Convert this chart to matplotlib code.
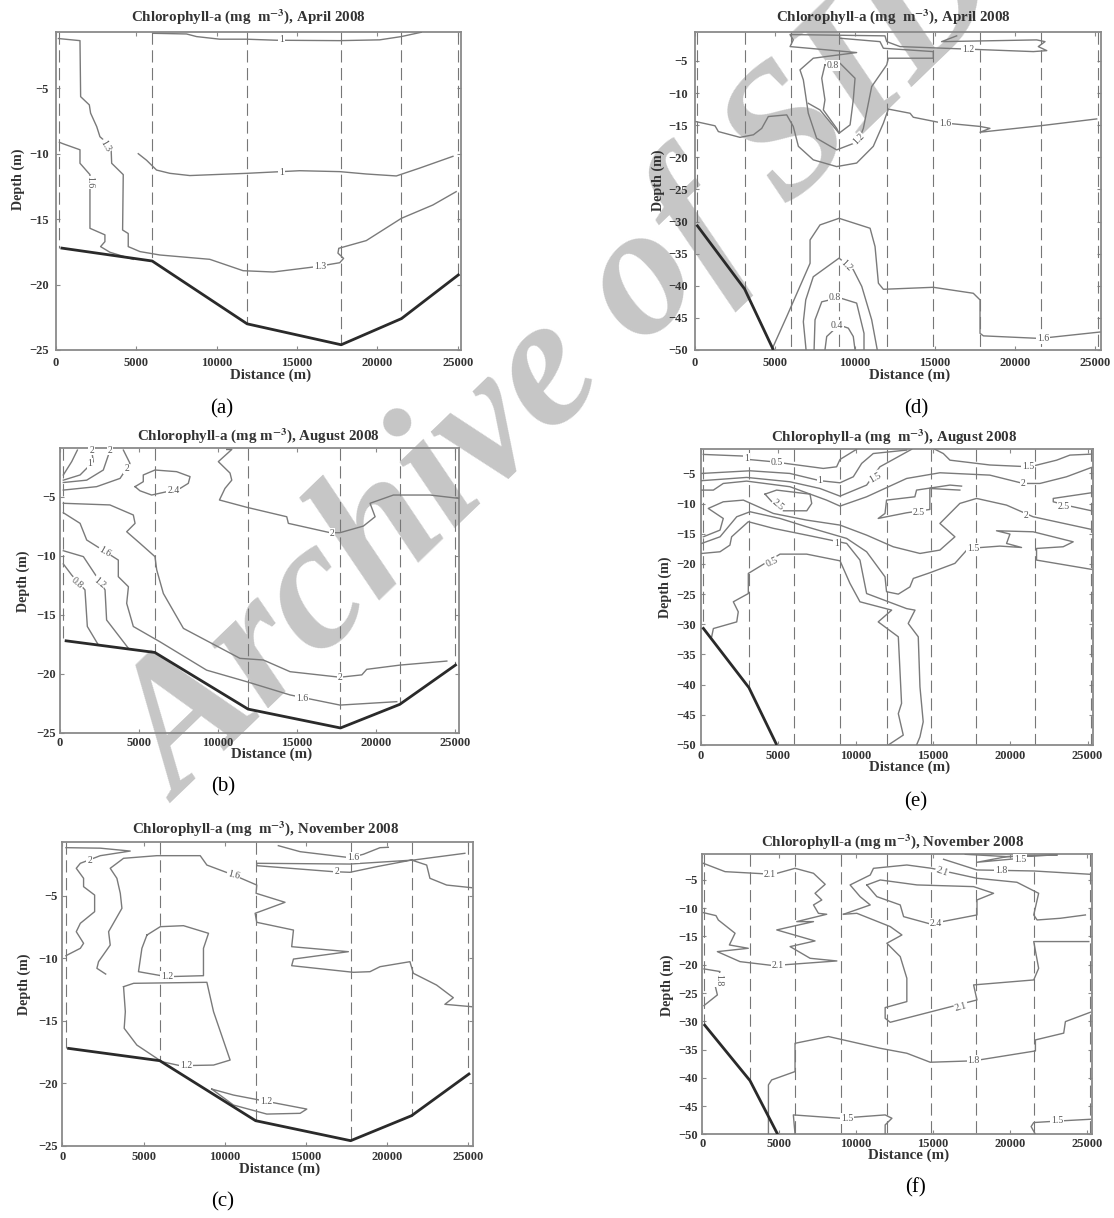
import matplotlib
matplotlib.use("Agg")
import matplotlib.pyplot as plt
import numpy as np

plt.rcParams['font.family'] = ['Liberation Serif', 'DejaVu Serif']
plt.rcParams['mathtext.fontset'] = 'stix'

W, H = 1114, 1218
line_col = "#7a7a7a"
dash_col = "#777777"
frame_col = "#8a8a8a"

# bottom profile of the two transects
bot_x_near = [300, 6000, 11900, 17750, 21500, 25100]
bot_y_near = [-17.2, -18.2, -23, -24.6, -22.6, -19.2]
bot_x_far = [100, 3100, 4900]
bot_y_far = [-30.5, -40.5, -50]

stations_near = [200, 6000, 11900, 17750, 21500, 25000]
stations_far = [100, 3100, 6000, 9000, 12000, 14900, 17800, 21600, 25200]

# (a) April, near
a1_x = [6065, 8135, 8756, 10205, 11860, 13725, 17657, 20141, 21487, 22729]
a1_y = [-0.8, -0.85, -1.05, -1.25, -1.25, -1.33, -1.36, -1.3, -1.05, -0.72]
a2_x = [5134, 5650, 6270, 7100, 8340, 11860, 15170, 17660, 19310, 21180, 22630, 24700]
a2_y = [-10, -10.5, -11.25, -11.5, -11.67, -11.5, -11.3, -11.37, -11.55, -11.7, -11.1, -10.2]
a3_x = [165, 1510, 1550, 2090, 2170, 2550, 2750, 3440, 3480, 4200, 4160, 4510, 4510, 5240, 6480, 9580,
        11650, 13520, 16210, 17660, 17900, 17550, 17600, 19310, 21490, 23450, 24900]
a3_y = [-1.2, -1.36, -5.64, -6.27, -6.9, -7.93, -8.7, -9.46, -10.73, -11.6, -15.83, -16.1, -17.1, -17.48,
        -17.74, -18.07, -18.94, -19.04, -18.63, -18.33, -18, -17.6, -17.23, -16.64, -14.94, -13.92, -12.9]
a4_x = [230, 480, 1510, 1510, 2130, 2130, 2130, 3060, 3060, 2790, 3370, 4820]
a4_y = [-9.13, -9.25, -9.7, -10.73, -11.6, -15.06, -15.7, -16.2, -16.72, -17.1, -17.53, -18.07]
a_lab = [("1", 14040, -1.25, 0), ("1", 14040, -11.4, 0), ("1.3", 3120, -9.4, -60),
         ("1.6", 2130, -12.2, -90), ("1.3", 16420, -18.63, 0)]

# (b) August, near
b1_x = [210, 740, 1100]
b1_y = [-3.16, -2.03, -1.05]
b2_x = [210, 1270, 2110, 2000]
b2_y = [-3.6, -3.16, -2.03, -1.05]
b3_x = [210, 1690, 2740, 3170]
b3_y = [-3.8, -3.6, -2.74, -1.05]
b4_x = [210, 2320, 3800, 4430, 4010]
b4_y = [-4.44, -4.15, -3.45, -2.18, -1.05]
b5_x = [4750, 5270, 5270, 6010, 7380, 8230, 8120, 7600, 6750, 5800, 5060, 4750]
b5_y = [-4.15, -3.73, -3.16, -2.74, -2.88, -3.3, -3.87, -4.3, -4.58, -4.86, -4.5, -4.15]
b6_x = [10550, 10870, 10020, 10760, 10870, 10440, 10090, 11820, 14350, 14450, 17090, 17720, 19200, 19940,
        19620, 21100, 23420, 25210]
b6_y = [-1, -1, -2.03, -3, -3.6, -4.3, -5.28, -5.9, -6.7, -7.26, -8.05, -8.05, -7.49, -6.7, -5.56, -4.86,
        -4.86, -5.14]
b7_x = [210, 3160, 4640, 4750, 4220, 5060, 6010, 6120, 6540, 7810, 11390, 12870, 14560, 17720, 19100, 19410,
        21520, 24480]
b7_y = [-5.56, -5.7, -6.55, -7.26, -7.97, -8.95, -10.08, -11.2, -13.2, -16.16, -18.7, -18.84, -19.83, -20.3,
        -20.1, -19.63, -19.27, -18.93]
b8_x = [210, 1270, 1690, 2530, 3690, 3690, 4330, 4220, 4640, 6330, 9280, 11820, 14560, 17720, 21310]
b8_y = [-6.36, -7.26, -8.67, -9.38, -10.37, -11.78, -12.63, -14.04, -16, -17.3, -19.7, -20.68, -21.8, -22.66,
        -22.37]
b9_x = [210, 1480, 2320, 2850, 2950, 4330]
b9_y = [-9.58, -10.08, -11.78, -12.9, -15.45, -17.85]
b10_x = [210, 740, 1580, 1730, 2430]
b10_y = [-10.7, -11.64, -12.9, -16, -17.57]
b_lab = [("2.4", 7170, -4.44, 0), ("2", 17200, -8.1, 0), ("1.6", 2810, -9.7, -30), ("1.2", 2470, -12.3, -40),
         ("0.8", 1100, -12.3, -40), ("1.6", 15300, -22.1, 0), ("2", 17720, -20.3, 0), ("1", 1900, -2.2, 0),
         ("2", 4220, -2.65, 0), ("2", 3170, -1.05, 0), ("2", 2000, -1.05, 0)]

# (c) November, near
c1_x = [225, 2340, 4180, 2340, 1110, 860, 1310, 1310, 1990, 1990, 1110, 860, 1310, 1110, 225]
c1_y = [-1.16, -1.2, -1.43, -1.8, -2.41, -2.81, -3.61, -4.28, -4.95, -6.28, -7.21, -7.88, -8.81, -9.21, -9.8]
c2_x = [2670, 2130, 2230, 2950, 2850, 3670, 3570, 3360, 2950, 3770, 5820, 8490, 8900, 10540, 11970, 11930,
        13710, 11870, 11970, 14230, 14120, 17610, 14230, 14120, 17920, 18940, 19560, 21400, 21610, 23040,
        24070, 23550, 25190]
c2_y = [-11.27, -10.81, -10.28, -8.95, -7.88, -6.01, -4.81, -3.61, -2.81, -2.01, -1.8, -1.8, -2.55, -3.35,
        -4.15, -4.81, -5.53, -6.41, -7.13, -7.75, -9.08, -9.48, -10.07, -10.6, -11.13, -11.08, -10.68, -10.28,
        -11.21, -12.15, -13.16, -13.69, -13.88]
c3_x = [13300, 14640, 17710, 18530, 19560, 20070]
c3_y = [-1, -1.48, -1.96, -1.69, -1.16, -1.13]
c4_x = [24780, 21610, 17710, 11970, 11970, 16690, 17710, 19350, 21500, 22430, 22630, 23660, 25190]
c4_y = [-1.61, -2.15, -2.47, -2.41, -2.6, -3.08, -3.13, -2.68, -2.15, -2.55, -3.61, -4.15, -4.36]
c5_x = [5210, 6030, 7460, 9000, 8690, 8690, 6440, 4690, 4900, 5210]
c5_y = [-8.15, -7.48, -7.4, -8.01, -9.21, -11.4, -11.48, -11.08, -9.21, -8.15]
c6_x = [3770, 4390, 8900, 9310, 10330, 9310, 7260, 6130, 4590, 3810, 3880, 3770]
c6_y = [-12.28, -12.01, -11.93, -14.28, -18.15, -18.55, -18.6, -18.28, -16.95, -15.61, -14.28, -12.28]
c7_x = [9200, 10540, 15050, 14640, 12590, 10540, 9200]
c7_y = [-20.47, -20.95, -22.07, -22.41, -22.47, -21.75, -20.47]
c_lab = [("2", 1680, -2.15, 0), ("1.6", 10540, -3.35, -15), ("1.6", 17920, -1.93, 0), ("2", 16890, -3.08, 0),
         ("1.2", 6440, -11.48, 0), ("1.2", 7600, -18.6, 0), ("1.2", 12550, -21.48, 0)]

# (d) April, far
d1_x = [60, 1250, 1460, 2810, 3650, 4170, 4580, 5730, 6140, 6460, 7390, 8850, 10100, 11140, 11770, 12080, 13440,
        13640, 15310, 17810, 18430, 17810, 21560, 25100]
d1_y = [-14.45, -15.1, -16, -16.9, -16.5, -15.5, -13.66, -13.4, -15.2, -18.3, -20.4, -21.45, -20.9, -18.3, -14.7,
        -12.5, -13.15, -13.77, -14.6, -15.2, -15.5, -16.1, -15.1, -14.03]
d2_x = [16350, 15410, 21350, 21870, 21450, 21980, 21140, 12810, 11980, 11870, 5940, 6140, 5940, 10100, 7390, 6560,
        6770, 7080, 7600, 8850, 10200, 10520, 11040, 11980, 12080, 14890, 14890, 11770, 11560, 9060]
d2_y = [-1.1, -2, -1.73, -2, -2.77, -3.4, -3.55, -2.77, -2, -1.1, -0.9, -1.73, -2.77, -3.7, -4.58, -6.4, -7.96,
        -13.15, -17.04, -18.85, -17.56, -15.5, -9, -5.62, -4.58, -4.58, -3.55, -3.03, -2, -1.47]
d3_x = [8120, 7920, 8120, 8020, 8850, 9000, 9690, 9890, 10000, 9060, 8120]
d3_y = [-5.6, -7.7, -11.07, -12.63, -15.5, -16.26, -14.96, -11.07, -7.7, -5.36, -5.6]
d4_x = [4790, 5730, 7190, 7190, 7810, 9000, 10940, 11250, 11460, 11770, 14890, 17390, 17810, 17810, 18020, 21560,
        25310]
d4_y = [-50, -44.8, -36.5, -32.87, -30.53, -29.5, -31.05, -33.9, -39.6, -40.55, -40.24, -41.17, -42.2, -47.4,
        -47.8, -48.2, -47.2]
d5_x = [6940, 6770, 6920, 7390, 9000, 9890, 10420, 11040, 11390]
d5_y = [-50, -45.6, -42.2, -38.6, -35.7, -37.5, -40.1, -45.3, -50]
d6_x = [7440, 7500, 7920, 9000, 10100, 10560, 10560]
d6_y = [-50, -45.3, -42.5, -41.85, -42.7, -47.4, -50]
d7_x = [8120, 8230, 9000, 9580, 9890, 10000]
d7_y = [-50, -47.9, -46.1, -46.6, -47.9, -50]
d8_x = [7080, 7810, 8430, 9000]
d8_y = [-11.6, -12.63, -14.5, -16.26]
d_lab = [("0.8", 8600, -5.7, 0), ("1.2", 17080, -3.2, 0), ("1.6", 15620, -14.7, 0), ("1.2", 10200, -17.2, 45),
         ("1.2", 9480, -36.8, -45), ("0.8", 8750, -41.85, 0), ("0.4", 8850, -46.2, 0), ("1.6", 21730, -48.2, 0)]

# (e) August, far
e1_x = [150, 2840, 3060, 4680, 7910, 8770, 8990, 10060]
e1_y = [-1.85, -2.13, -2.68, -3.07, -4.17, -3.9, -2.68, -1]
e2_x = [40, 3170, 5750, 7690, 8990, 9850, 10390, 11140, 13300]
e2_y = [-5, -4.56, -5, -6.2, -6.55, -5.55, -3.34, -1.7, -1.13]
e3_x = [40, 2950, 5750, 7690, 8990, 10710, 11570, 13620]
e3_y = [-6.2, -5.66, -6.38, -7.49, -8.76, -6.93, -3.9, -1]
e4_x = [40, 800, 1440, 2950, 5750, 8120, 8990, 10710, 13300, 15450, 18680, 20840, 21920, 23640, 25260]
e4_y = [-7.76, -7.76, -6.66, -6.27, -7.2, -9.42, -10.41, -8.87, -5.83, -4.89, -5.28, -6.66, -6.66, -5.55, -4]
e5_x = [4140, 4890, 7050, 7160, 6840, 5320, 4680, 4140]
e5_y = [-8.43, -7.76, -8.43, -9.97, -11.19, -11.19, -9.97, -8.43]
e6_x = [16850, 16100, 13940, 13830, 12000, 11900, 11460, 12000, 13300, 14800, 14800, 16740]
e6_y = [-7.1, -6.93, -7.76, -8.87, -9.42, -11.63, -12.46, -12.18, -11.52, -10.97, -7.49, -7.76]
e7_x = [25260, 22780, 22780, 23860, 25260]
e7_y = [-8.2, -9.14, -9.7, -10.41, -11.19]
e8_x = [150, 1230, 1440, 470, 1440, 2740, 4680, 6830, 8990, 10710, 12430, 14160, 15450, 16420, 15450, 16740, 17820,
        19760, 21480, 25260]
e8_y = [-15.5, -14.39, -12.46, -10.8, -9.7, -9.42, -11.63, -12.73, -13.56, -15.22, -17.15, -18.26, -17.7, -15.5,
        -13.29, -9.97, -9.14, -10.25, -12.18, -14.28]
e9_x = [40, 1230, 2310, 3170, 5110, 6830, 9420, 10710, 11900, 12000, 12760, 13510, 13730, 14800, 16420, 17280,
        19330, 20730, 19760, 19980, 19110, 21480, 24070, 23420, 21700, 21700, 25260]
e9_y = [-16.6, -15.5, -12.18, -11.35, -12.46, -13.84, -15.77, -17.98, -22.13, -24.6, -25, -23.8, -22.4, -21.46,
        -19.9, -17.43, -17.04, -17.27, -16.6, -15.05, -14.5, -14.67, -16.33, -17.15, -17.43, -19.36, -20.9]
e10_x = [40, 1230, 1870, 1980, 3060, 4680, 6830, 9420, 10280, 10710, 13300, 13840, 13400, 14050, 14160, 14370,
         14160, 13940]
e10_y = [-18.26, -17.98, -16.88, -15.5, -13, -14.1, -15.22, -16.6, -19.36, -24.9, -27.4, -27.65, -29.86, -32.07,
         -40.36, -46.16, -48.65, -50]
e11_x = [690, 800, 2310, 2410, 2090, 3060, 3060, 5110, 6830, 8990, 9630, 10280, 12330, 11460, 12760, 12970, 12760,
         13080, 12110]
e11_y = [-32.07, -30.7, -29.6, -27.93, -26.27, -24.9, -21.57, -18.37, -18.37, -19.48, -23.2, -26.27, -27.65, -29.6,
         -32.07, -43.1, -44.8, -48.36, -50]
e12_x = [15130, 15670, 16100, 18680, 21270, 23000, 23860, 25260]
e12_y = [-1, -1.7, -2.8, -3.6, -3.9, -2.8, -1.96, -1.8]
e_lab = [("1", 2950, -2.5, 0), ("0.5", 4890, -3.2, 0), ("1", 7690, -6.2, 0), ("1.5", 11250, -5.66, 30),
         ("2.5", 5000, -10.25, -40), ("2.5", 14110, -11.52, 0), ("2.5", 23470, -10.4, 0), ("1.5", 21160, -3.8, 0),
         ("2", 20840, -6.66, 0), ("2", 21010, -11.9, 0), ("1.5", 17600, -17.43, 0), ("1", 8770, -16.6, 0),
         ("0.5", 4570, -19.75, 25)]

# (f) November, far
f1_x = [65, 1480, 4620, 6030, 7230, 7990, 7330, 7770, 7230, 7550, 8090, 6140, 7230, 4840, 7330, 5710, 7010, 8750,
        4620, 2450, 980, 2990, 1760, 2130, 1040, 890, 65]
f1_y = [-2.05, -3.53, -4, -2.94, -3.82, -5.77, -7.36, -8.54, -9.42, -10.9, -11.07, -12.37, -12.37, -13.84, -15.79,
        -16.79, -18.86, -19.33, -20.15, -19.45, -17.68, -17.09, -16.5, -14.43, -12.08, -11.31, -10.78]
f2_x = [9180, 10920, 10260, 9610, 10920, 11130, 13300, 14910, 17860, 20460, 21870, 21550, 21770, 23280, 24910]
f2_y = [-11.07, -9.42, -7.95, -5.88, -4.12, -2.94, -2.35, -2.94, -4.7, -5.41, -7.36, -11.19, -12.08, -11.78, -11.19]
f3_x = [9180, 10050, 12220, 12980, 12000, 12870, 13300, 13300, 11890, 11890, 12220, 17860, 17640, 21550, 21870,
        21550, 25130]
f3_y = [-11.07, -10.9, -13.25, -14.73, -16.2, -18.56, -22.39, -26.52, -27.58, -29.47, -30.18, -26.23, -23.57,
        -22.69, -20.63, -15.9, -15.9]
f4_x = [10700, 11570, 13960, 17640, 18940, 17860, 17860, 14820, 13090, 12870, 11350, 10700]
f4_y = [-5.88, -5, -5.88, -6.18, -7.36, -8.54, -11.19, -12.78, -11.49, -9.42, -7.95, -5.88]
f5_x = [15690, 17860, 21550, 25240]
f5_y = [-1.34, -3.23, -3.41, -4]
f6_x = [17100, 19810, 23070, 19810, 17860, 20680]
f6_y = [-0.46, -0.87, -0.58, -0.87, -1.87, -1.17]
f7_x = [4300, 4300, 4510, 6030, 6030, 8200, 11570, 13300, 14820, 17640, 21660, 21660, 23500, 23610, 25240]
f7_y = [-50, -41.26, -40.38, -38.9, -33.9, -32.7, -34.78, -35.66, -37.25, -37, -35.25, -33.3, -32.1, -30.06, -28.4]
f8_x = [6030, 5920, 8960, 11890, 12330, 11890, 11890]
f8_y = [-50, -46.57, -47.16, -46.57, -47.16, -48.34, -50]
f9_x = [21660, 21380, 21550, 23280, 25240]
f9_y = [-50, -48.63, -47.92, -47.63, -47.34]
f10_x = [108, 1150, 825, 980, 108]
f10_y = [-20.74, -21.2, -23.57, -25.34, -27.23]
f_lab = [("2.1", 4400, -4, 0), ("2.1", 15580, -3.53, -20), ("1.8", 19420, -3.41, 0), ("1.5", 20680, -1.34, 0),
         ("2.4", 15210, -12.66, 0), ("2.1", 4900, -20.15, 0), ("2.1", 16820, -27.4, 15), ("1.8", 17640, -37, 0),
         ("1.5", 9400, -47.16, 0), ("1.5", 23070, -47.63, 0), ("1.8", 1085, -22.7, -90)]

xticks = [0, 5000, 10000, 15000, 20000, 25000]
yticks_near = [-25, -20, -15, -10, -5]
yticks_far = [-50, -45, -40, -35, -30, -25, -20, -15, -10, -5]

fig = plt.figure(figsize=(W / 100, H / 100), dpi=100, facecolor="white")


def panel(box, xmax, ytop, near, month, lines, labels, letter, title, xlab, ylab, pad, gap="  "):
    l, t, r, b = box
    ax = fig.add_axes([l / W, 1 - b / H, (r - l) / W, (b - t) / H])
    ax.patch.set_alpha(0)
    ax.set_xlim(0, xmax)
    ax.set_ylim(-25 if near else -50, ytop)

    bx, by = (bot_x_near, bot_y_near) if near else (bot_x_far, bot_y_far)
    for s in (stations_near if near else stations_far):
        ax.plot([s, s], [ytop, np.interp(s, bx, by)], color=dash_col, lw=0.8, dashes=(11, 5), zorder=2)

    for xs, ys in lines:
        ax.plot(xs, ys, color=line_col, lw=1.0, zorder=3)
    ax.plot(bx, by, color="#2a2a2a", lw=2.0, zorder=4, solid_capstyle="butt")

    for txt, x, y, rot in labels:
        ax.text(x, y, txt, fontsize=7, color="#555555", ha="center", va="center", rotation=rot, zorder=5,
                bbox=dict(facecolor="white", edgecolor="none", pad=0.6))

    ax.set_xticks(xticks)
    ax.set_yticks(yticks_near if near else yticks_far)
    ax.tick_params(direction="in", length=3, width=0.8, color=frame_col, top=True, right=True, pad=pad,
                   labelsize=9, labelcolor="#333333")
    for lab in ax.get_xticklabels() + ax.get_yticklabels():
        lab.set_fontweight("bold")
    for s in ax.spines.values():
        s.set_color(frame_col)
        s.set_linewidth(1.3)

    fig.text(title[0] / W, 1 - title[1] / H, "Chlorophyll-a (mg" + gap + r"m$^{\mathbf{-3}}$), " + month,
             fontsize=10.8, fontweight="bold", color="#333333", ha="center", va="center")
    fig.text(xlab[0] / W, 1 - xlab[1] / H, "Distance (m)", fontsize=10.8, fontweight="bold", color="#333333",
             ha="center", va="center")
    fig.text(ylab[0] / W, 1 - ylab[1] / H, "Depth (m)", fontsize=10.2, fontweight="bold", color="#333333",
             rotation=90, ha="center", va="center")
    fig.text(letter[0] / W, 1 - letter[1] / H, letter[2], fontsize=15, color="black", ha="center", va="center")
    return ax


panel((55.7, 32, 461, 350), 25200, -0.7, True, "April 2008",
      [(a1_x, a1_y), (a2_x, a2_y), (a3_x, a3_y), (a4_x, a4_y)], a_lab,
      (222, 409, "(a)"), (248, 17), (271, 375), (18, 179), 5)
panel((60, 448.3, 459, 732.7), 25250, -0.9, True, "August 2008",
      [(b1_x, b1_y), (b2_x, b2_y), (b3_x, b3_y), (b4_x, b4_y), (b5_x, b5_y), (b6_x, b6_y), (b7_x, b7_y),
       (b8_x, b8_y), (b9_x, b9_y), (b10_x, b10_y)], b_lab,
      (223, 787, "(b)"), (258, 436), (272, 754), (23, 581), 3, gap=" ")
panel((62.3, 842.3, 473.3, 1145.7), 25300, -0.73, True, "November 2008",
      [(c1_x, c1_y), (c2_x, c2_y), (c3_x, c3_y), (c4_x, c4_y), (c5_x, c5_y), (c6_x, c6_y), (c7_x, c7_y)], c_lab,
      (223, 1202, "(c)"), (266, 829), (280, 1169), (24, 984), 3.5)
panel((695, 32, 1100.7, 350), 25350, -0.5, False, "April 2008",
      [(d1_x, d1_y), (d2_x, d2_y), (d3_x, d3_y), (d4_x, d4_y), (d5_x, d5_y), (d6_x, d6_y), (d7_x, d7_y),
       (d8_x, d8_y)], d_lab,
      (916, 409, "(d)"), (893, 17), (910, 375), (658, 180), 5)
panel((701, 449.3, 1093.3, 745), 25370, -1, False, "August 2008",
      [(e1_x, e1_y), (e2_x, e2_y), (e3_x, e3_y), (e4_x, e4_y), (e5_x, e5_y), (e6_x, e6_y), (e7_x, e7_y),
       (e8_x, e8_y), (e9_x, e9_y), (e10_x, e10_y), (e11_x, e11_y), (e12_x, e12_y)], e_lab,
      (916, 802, "(e)"), (894, 437), (910, 767), (665, 587), 3.5)
panel((702.3, 854.3, 1091.7, 1134.3), 25320, -0.46, False, "November 2008",
      [(f1_x, f1_y), (f2_x, f2_y), (f3_x, f3_y), (f4_x, f4_y), (f5_x, f5_y), (f6_x, f6_y), (f7_x, f7_y),
       (f8_x, f8_y), (f9_x, f9_y), (f10_x, f10_y)], f_lab,
      (916, 1188, "(f)"), (893, 842), (909, 1155), (667, 985), 3, gap=" ")

# watermark sits under the panels
fig.text(180 / W, 1 - 803 / H, "Archive of SID", fontsize=134, fontweight="bold", fontstyle="italic",
         color="#c6c6c6", rotation=44, rotation_mode="anchor", ha="left", va="baseline", zorder=-1)

fig.savefig("out.png", dpi=100)
